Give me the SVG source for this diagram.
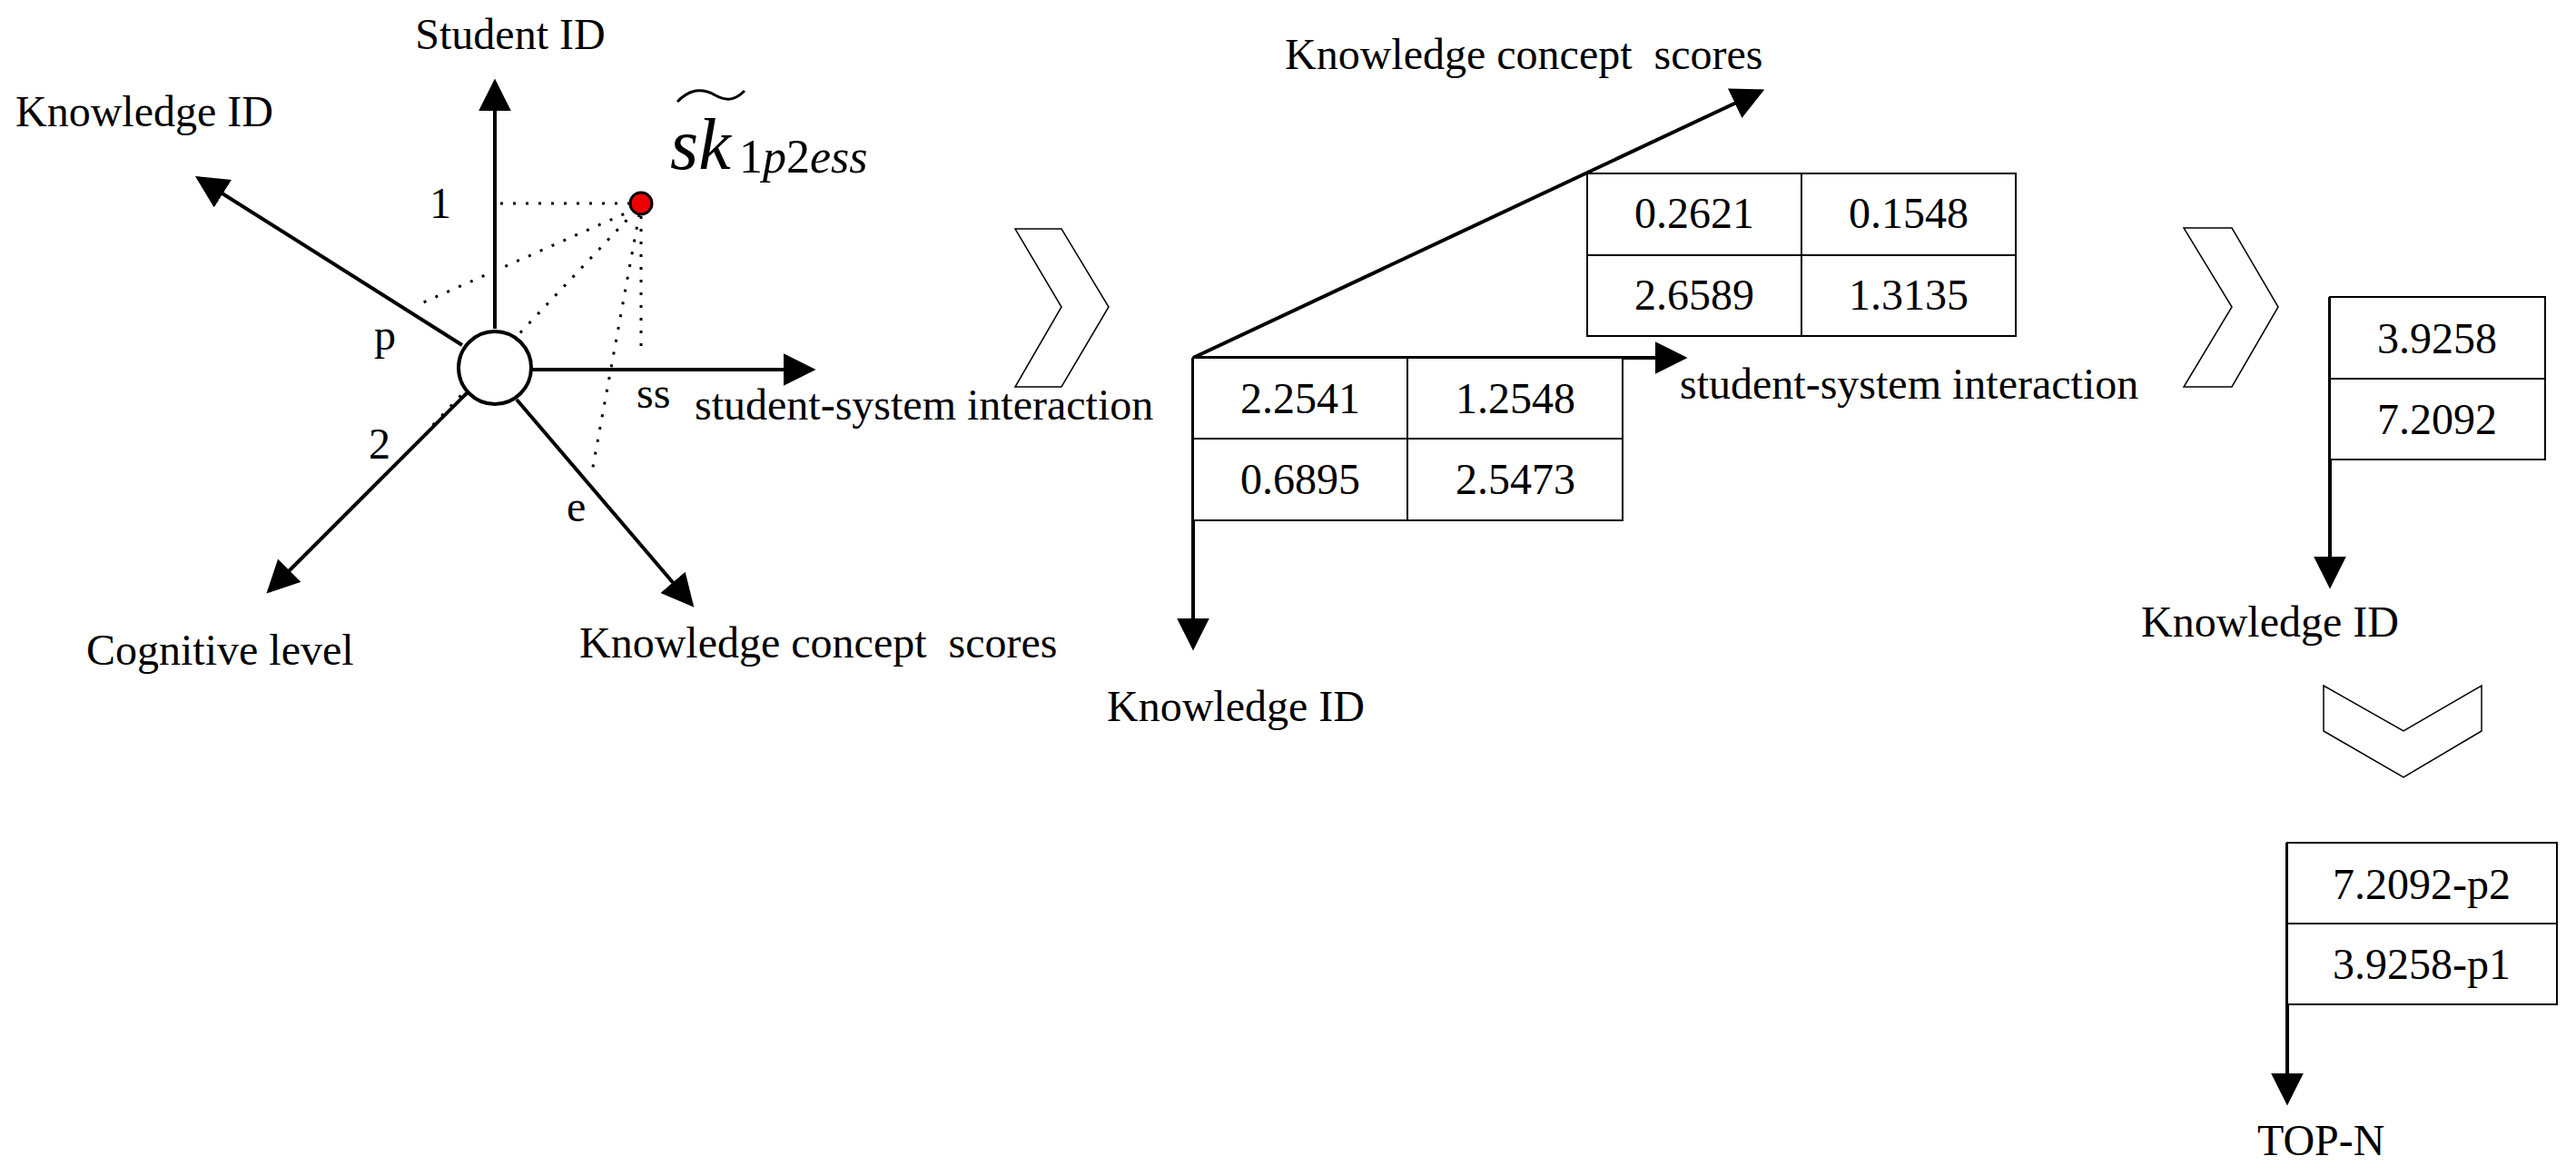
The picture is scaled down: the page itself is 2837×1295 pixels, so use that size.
<svg xmlns="http://www.w3.org/2000/svg" width="2837" height="1295" viewBox="0 0 2837 1295">
<style>
text{font-family:"Liberation Serif","DejaVu Serif","Times New Roman",serif;font-size:48px;fill:#000}
.ax{stroke:#000;stroke-width:4;fill:none}
.dot{stroke:#000;stroke-width:3;stroke-dasharray:3 11;fill:none}
.cell{stroke:#000;stroke-width:2;fill:#fff}
.chev{stroke:#000;stroke-width:1.5;fill:#fff}
.m{text-anchor:middle}
</style>
<defs>
<marker id="ah" viewBox="0 0 10 10" refX="9" refY="5" markerWidth="36" markerHeight="36" markerUnits="userSpaceOnUse" orient="auto">
<path d="M0,0 L10,5 L0,10 z" fill="#000"/>
</marker>
</defs>
<g id="connectors">
<line class="ax" x1="545" y1="362" x2="545" y2="90" marker-end="url(#ah)"/>
<line class="ax" x1="509" y1="380" x2="218" y2="196" marker-end="url(#ah)"/>
<line class="ax" x1="585" y1="407" x2="895" y2="407" marker-end="url(#ah)"/>
<line class="ax" x1="516" y1="431" x2="296" y2="651" marker-end="url(#ah)"/>
<line class="ax" x1="569" y1="440" x2="762" y2="666" marker-end="url(#ah)"/>
<line class="dot" x1="694" y1="224" x2="547" y2="224"/>
<line class="dot" x1="700" y1="230" x2="464" y2="334"/>
<line class="dot" x1="700" y1="232" x2="473" y2="472"/>
<line class="dot" x1="704" y1="236" x2="651" y2="525"/>
<line class="dot" x1="706" y1="238" x2="706" y2="390"/>
<line class="ax" x1="1314" y1="394" x2="1940" y2="100" marker-end="url(#ah)"/>
<line class="ax" x1="1314" y1="394" x2="1855" y2="394" marker-end="url(#ah)"/>
<line class="ax" x1="1314" y1="394" x2="1314" y2="713" marker-end="url(#ah)"/>
<line class="ax" x1="2566" y1="327" x2="2566" y2="645" marker-end="url(#ah)"/>
<line class="ax" x1="2519" y1="928" x2="2519" y2="1214" marker-end="url(#ah)"/>
</g>
<g id="space">
<circle cx="545" cy="405" r="40" fill="#fff" stroke="#000" stroke-width="4"/>
<circle cx="706" cy="224" r="12" fill="#e00" stroke="#000" stroke-width="3"/>
<text x="562" y="54" class="m">Student ID</text>
<text x="17" y="139">Knowledge ID</text>
<text x="765" y="462">student-system interaction</text>
<text x="95" y="732">Cognitive level</text>
<text x="638" y="724" xml:space="preserve">Knowledge concept  scores</text>
<text x="473" y="240">1</text>
<text x="412" y="385">p</text>
<text x="701" y="449">ss</text>
<text x="406" y="505">2</text>
<text x="624" y="574">e</text>
<path d="M746,112 C760,97 774,97 788,105 C801,112 810,110 820,100" stroke="#000" stroke-width="3" fill="none"/>
<text x="738" y="186" style="font-size:80px;font-style:italic">sk</text>
<text x="814" y="190" style="font-size:52px"><tspan>1</tspan><tspan font-style="italic">p</tspan><tspan>2</tspan><tspan font-style="italic">ess</tspan></text>
</g>
<g id="chevron1"><polygon class="chev" points="1118,252 1169,252 1221,338 1169,426 1118,426 1169,338"/></g>
<g id="table1">
<rect class="cell" x="1314" y="394" width="473" height="179"/>
<line class="cell" x1="1314" y1="483" x2="1787" y2="483"/>
<line class="cell" x1="1550" y1="394" x2="1550" y2="573"/>
<text x="1432" y="455" class="m">2.2541</text><text x="1669" y="455" class="m">1.2548</text>
<text x="1432" y="544" class="m">0.6895</text><text x="1669" y="544" class="m">2.5473</text>
</g>
<g id="table2">
<rect class="cell" x="1748" y="191" width="472" height="179"/>
<line class="cell" x1="1748" y1="281" x2="2220" y2="281"/>
<line class="cell" x1="1984" y1="191" x2="1984" y2="370"/>
<text x="1866" y="251" class="m">0.2621</text><text x="2102" y="251" class="m">0.1548</text>
<text x="1866" y="341" class="m">2.6589</text><text x="2102" y="341" class="m">1.3135</text>
</g>
<text x="1415" y="76" xml:space="preserve">Knowledge concept  scores</text>
<text x="1850" y="439">student-system interaction</text>
<text x="1219" y="794">Knowledge ID</text>
<g id="chevron2"><polygon class="chev" points="2405,251 2458,251 2509,338 2458,426 2405,426 2458,338"/></g>
<g id="table3">
<rect class="cell" x="2566" y="327" width="237" height="179"/>
<line class="cell" x1="2566" y1="417" x2="2803" y2="417"/>
<text x="2684" y="389" class="m">3.9258</text>
<text x="2684" y="478" class="m">7.2092</text>
</g>
<text x="2358" y="701">Knowledge ID</text>
<g id="chevron3"><polygon class="chev" points="2559,755 2647,805 2733,755 2733,805 2647,856 2559,805"/></g>
<g id="table4">
<rect class="cell" x="2519" y="928" width="297" height="178"/>
<line class="cell" x1="2519" y1="1017" x2="2816" y2="1017"/>
<text x="2667" y="990" class="m">7.2092-p2</text>
<text x="2667" y="1078" class="m">3.9258-p1</text>
</g>
<text x="2486" y="1272">TOP-N</text>
</svg>
